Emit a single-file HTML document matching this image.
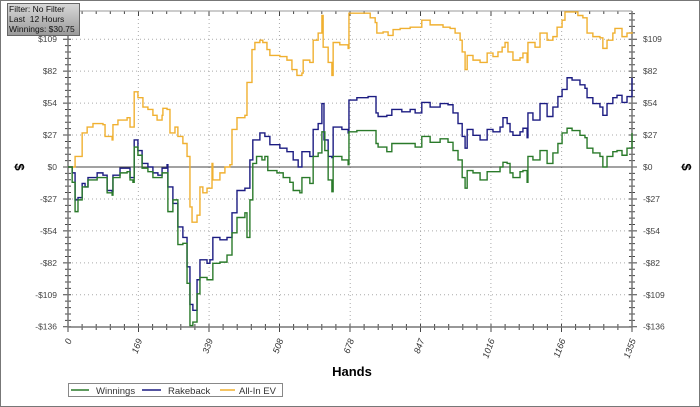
<!DOCTYPE html>
<html><head><meta charset="utf-8"><style>
body{margin:0;background:#fff;}
#wrap{position:relative;width:700px;height:407px;overflow:hidden;font-family:"Liberation Sans",sans-serif;}
</style></head><body>
<div id="wrap">
<svg id="chart" width="700" height="407" xmlns="http://www.w3.org/2000/svg">
<rect x="0.5" y="0.5" width="699" height="406" fill="#fff" stroke="#777" stroke-width="1"/>
<g id="grid"></g>
<g id="axes"></g>
<g id="series"></g>
<text x="352" y="376" font-size="13" font-weight="bold" text-anchor="middle" fill="#000">Hands</text>
<text transform="translate(15,167) rotate(90)" font-size="13" font-weight="bold" text-anchor="middle" fill="#000">$</text>
<text transform="translate(682,167) rotate(90)" font-size="13" font-weight="bold" text-anchor="middle" fill="#000">$</text>
<g>
<rect x="68.5" y="383.5" width="214" height="13" fill="#fff" stroke="#888"/>
<g><line x1="71" y1="390" x2="89" y2="390" stroke="#2a7a2a" stroke-width="1.5"/><text x="96" y="394" font-size="9.5" fill="#333">Winnings</text></g>
<g><line x1="142" y1="390" x2="161" y2="390" stroke="#1c1c82" stroke-width="1.5"/><text x="168" y="394" font-size="9.5" fill="#333">Rakeback</text></g>
<g><line x1="220" y1="390" x2="235" y2="390" stroke="#f0b030" stroke-width="1.5"/><text x="239" y="394" font-size="9.5" fill="#333">All-In EV</text></g>
</g>
</svg>
<div style="position:absolute;left:7px;top:3px;width:70px;height:31px;border:1px solid #666;background:linear-gradient(#d8d8d8,#9a9a9a);font-family:'Liberation Sans',sans-serif;font-size:8.5px;line-height:10px;color:#111;padding-left:1px;white-space:nowrap;overflow:hidden;">Filter: No Filter<br>Last&nbsp; 12 Hours<br>Winnings: $30.75</div>
</div>
<script>
const xTicks=[0,169,339,508,678,847,1016,1186,1355];
const xTickLabels=["0","169","339","508","678","847","1016","1166","1355"];
const yTicks=[-136,-108.8,-81.6,-54.4,-27.2,0,27.2,54.4,81.6,108.8];
const yTickLabels=["-$136","-$109","-$82","-$54","-$27","$0","$27","$54","$82","$109"];

const evHands=[0,12,17,34,46,60,84,89,106,108,120,142,149,156,159,168,180,192,204,214,226,228,238,245,257,264,276,286,293,298,310,317,324,334,346,348,365,377,389,394,406,425,430,442,449,461,468,478,485,509,526,538,550,562,565,581,589,601,610,613,625,634,637,653,673,675,694,714,726,738,742,757,769,781,798,822,838,850,870,901,918,930,942,947,954,959,973,990,997,1007,1021,1033,1043,1050,1057,1069,1086,1093,1103,1105,1122,1134,1151,1165,1175,1187,1194,1211,1225,1237,1247,1261,1278,1285,1295,1309,1314,1331,1343,1355];
const evValues=[0,0,9,29,34,37,36,26,23,36,40,42,34,34,64,59,51,49,44,40,44,50,49,29,34,26,20,9,-34,-47,-41,-17,-22,-18,3,-11,-5,0,2,32,42,44,72,100,106,108,106,100,95,94,91,83,78,80,91,89,108,114,129,102,89,78,106,104,101,131,131,131,127,123,114,115,112,117,118,119,119,125,121,119,118,114,108,98,83,95,91,89,89,97,94,98,102,106,98,91,93,97,89,106,102,114,108,111,119,125,132,132,129,127,114,111,110,101,108,114,118,111,114,115];

const rbHands=[0,10,17,24,34,41,48,70,84,94,106,108,125,142,149,156,159,168,178,192,204,216,226,238,240,252,264,276,286,293,300,310,317,334,341,348,365,382,394,406,425,437,444,461,473,485,509,526,541,553,562,581,589,601,610,615,625,634,637,658,673,675,694,721,740,745,766,778,802,822,834,850,870,894,913,925,937,947,954,959,973,990,997,1007,1021,1038,1045,1055,1062,1069,1086,1093,1103,1105,1117,1134,1151,1165,1177,1187,1199,1211,1230,1242,1247,1261,1278,1285,1295,1309,1319,1331,1343,1354,1355];
const rbValues=[0,-5,-28,-26,-14,-17,-9,-5,-7,-20,-21,-7,-1,-1,-9,-9,23,14,3,0,-5,-7,-1,2,-17,-31,-51,-60,-85,-117,-122,-96,-79,-82,-79,-60,-62,-60,-39,-20,-18,6,23,29,26,19,16,13,6,0,13,9,32,37,54,23,9,8,34,32,29,57,59,60,46,43,44,49,47,49,46,55,51,54,53,46,37,26,16,32,27,23,23,32,30,34,42,37,30,27,30,33,25,46,40,54,43,51,60,66,76,74,70,67,59,54,51,44,54,59,61,55,60,60,76];

const winHands=[0,10,17,24,34,48,70,84,94,106,108,125,142,149,156,159,168,178,192,204,216,226,238,240,252,264,276,286,293,300,310,317,334,348,365,382,394,406,425,430,437,444,453,466,473,480,502,517,533,541,557,562,581,589,601,610,617,625,634,637,658,673,675,694,721,740,745,766,778,802,822,834,850,870,894,913,925,937,947,954,959,973,990,997,1007,1021,1038,1045,1055,1062,1069,1086,1093,1103,1105,1117,1134,1151,1165,1177,1187,1199,1211,1230,1242,1247,1261,1278,1285,1295,1309,1319,1331,1343,1354,1355];
const winValues=[0,-13,-38,-28,-17,-11,-9,-9,-22,-24,-9,-5,-4,-11,-13,17,10,-1,-4,-9,-9,-5,-5,-38,-28,-66,-65,-99,-135,-132,-108,-94,-96,-82,-81,-75,-56,-43,-39,-60,-28,3,9,6,9,-3,-5,-9,-13,-20,-22,-9,-14,9,12,30,14,-11,-21,9,6,2,30,31,31,20,17,13,20,20,20,17,26,21,24,21,14,6,-9,-18,-3,-5,-11,-11,-4,-4,0,4,3,-5,-9,-4,-3,-13,9,6,14,3,12,20,29,33,31,27,25,16,12,9,0,9,13,14,10,16,16,29];

const X0=68,X1=632,Y0=167,PPD=1.1745,YT=11,YB=327,XMAX=1355;
function xs(h){return X0+(h/XMAX)*(X1-X0);}
function ys(v){return Y0-v*PPD;}
const NS="http://www.w3.org/2000/svg";
function mk(tag,attrs,parent){const e=document.createElementNS(NS,tag);for(const k in attrs)e.setAttribute(k,attrs[k]);parent.appendChild(e);return e;}
const grid=document.getElementById('grid'),axes=document.getElementById('axes'),series=document.getElementById('series');

xTicks.forEach((h,i)=>{
  if(i>0&&i<xTicks.length-1){const g=mk('line',{x1:xs(h),x2:xs(h),y1:YT,y2:YB,stroke:'#aaa','stroke-dasharray':'1,3'},grid);
  
  }
  const t=mk('text',{transform:`translate(${xs(h)+4},${340}) rotate(-70)`,'font-size':'9','text-anchor':'end','font-style':'italic',fill:'#333'},axes);
  t.textContent=xTickLabels[i];
  
  
});
yTicks.forEach((v,i)=>{
  if(v!==0&&v!==-136){const g=mk('line',{x1:X0,x2:X1,y1:ys(v),y2:ys(v),stroke:'#aaa','stroke-dasharray':'1,3'},grid);
  
  }
  const l=mk('text',{x:57,y:ys(v)+3,'font-size':'8.5','text-anchor':'end',fill:'#444'},axes);
  l.textContent=yTickLabels[i];
  
  
  const r=mk('text',{x:643,y:ys(v)+3,'font-size':'8.5','text-anchor':'start',fill:'#444'},axes);
  r.textContent=yTickLabels[i];
  
  
});
let tk='';
for(let k=0;k<=40;k++){const x=X0+k*(X1-X0)/40;const big=k%5===0;tk+=`M${x},${YB-3}V${YB+(big?5:3)}M${x},${YT}V${YT+(big?5:3)}`;}
for(let k=0;k<=50;k++){const y=ys(-136+k*136/25);if(y<YT)break;const big=k%5===0;tk+=`M${X0-(big?5:3)},${y}H${X0+3}M${X1-3},${y}H${X1+(big?5:3)}`;}
const tp=mk('path',{d:tk,stroke:'#444','stroke-width':'1',fill:'none'},axes);


const ax=mk('path',{d:`M${X0},${YT}V${YB}H${X1}V${YT}`,stroke:'#777','stroke-width':'1.5',fill:'none'},axes);


const topl=mk('line',{x1:X0,x2:X1,y1:YT,y2:YT,stroke:'#999','stroke-width':'1'},axes);


const zl=mk('line',{x1:X0,x2:X1,y1:ys(0),y2:ys(0),stroke:'#444','stroke-width':'1'},grid);



function stepPath(H,V){let d=`M${xs(H[0])},${ys(V[0])}`;for(let i=1;i<H.length;i++){d+=`H${xs(H[i])}V${ys(V[i])}`;}return d;}
const pEv=mk('path',{d:stepPath(evHands,evValues),stroke:'#f0b030','stroke-width':'1.4',fill:'none'},series);


const pRb=mk('path',{d:stepPath(rbHands,rbValues),stroke:'#1c1c82','stroke-width':'1.4',fill:'none'},series);


const pW=mk('path',{d:stepPath(winHands,winValues),stroke:'#2a7a2a','stroke-width':'1.4',fill:'none'},series);


</script>
</body></html>
